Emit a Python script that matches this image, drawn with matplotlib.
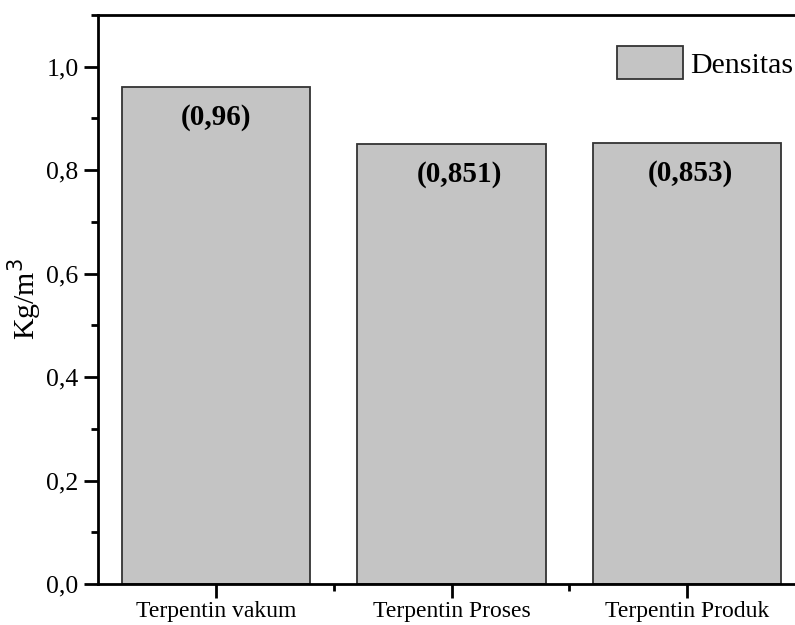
import matplotlib
matplotlib.use("Agg")
import matplotlib.pyplot as plt
from matplotlib.ticker import MultipleLocator, FixedLocator
import numpy as np

categories = ['Terpentin vakum', 'Terpentin Proses', 'Terpentin Produk']
densitas = [0.96, 0.851, 0.853]
labels = ['(0,96)', '(0,851)', '(0,853)']

plt.rcParams['font.family'] = ['Liberation Serif', 'DejaVu Serif']

fig = plt.figure(figsize=(7.95, 6.25), dpi=100)
# right part of the frame is cut off in the original
ax = fig.add_axes([98 / 795, 1 - 584 / 625, (805 - 98) / 795, (584 - 15) / 625])

x = np.arange(len(categories))
ax.bar(x, densitas, width=0.8, color='#c4c4c4', edgecolor='#333333',
       linewidth=1.3, label='Densitas', zorder=2)

# labels sit a bit off-centre in the original
shift = [0, 6, 2]
for xi, yi, t, dx in zip(x, densitas, labels, shift):
    ax.annotate(t, (xi, yi), xytext=(dx, -22), textcoords='offset points',
                ha='center', va='center', fontsize=21, fontweight='bold')

ax.set_xlim(-0.5, 2.5)
ax.set_ylim(0, 1.1)
ax.set_xticks(x)
ax.set_xticklabels(categories)
ax.xaxis.set_minor_locator(FixedLocator([0.5, 1.5]))
ax.yaxis.set_major_locator(MultipleLocator(0.2))
ax.yaxis.set_minor_locator(MultipleLocator(0.1))
ax.yaxis.set_major_formatter(lambda v, p: f'{v:.1f}'.replace('.', ','))

ax.tick_params(which='major', direction='out', length=10, width=2, labelsize=18.5, pad=4)
ax.tick_params(which='minor', direction='out', length=5, width=2)
ax.tick_params(axis='x', labelsize=17, pad=2)
for s in ax.spines.values():
    s.set_linewidth(2)

ax.set_ylabel('Kg/m$^3$', fontsize=21.5, labelpad=2)

ax.legend(loc='upper left', bbox_to_anchor=(0.717, 0.966), frameon=False,
          fontsize=21.5, handlelength=2.2, handleheight=1.3, handletextpad=0.25,
          borderaxespad=0)

fig.savefig('out.png', dpi=100)
